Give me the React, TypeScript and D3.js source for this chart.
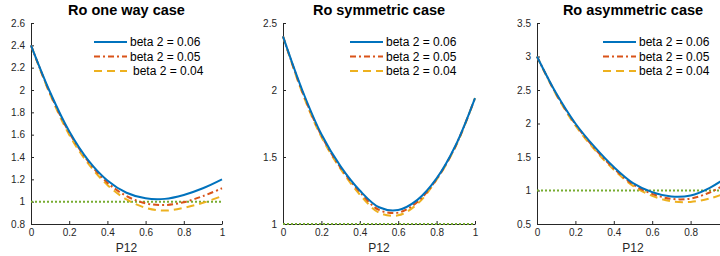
import React, { useEffect, useRef } from 'react';
import * as d3 from 'd3';

const P12 = [0, 0.1, 0.2, 0.3, 0.4, 0.5, 0.6, 0.7, 0.8, 0.9, 1];
const legendLabels = ['beta 2 = 0.06', 'beta 2 = 0.05', 'beta 2 = 0.04'];
const titles = ['Ro one way case', 'Ro symmetric case', 'Ro asymmetric case'];

// Ro one way case
const oneWay06 = [2.4, 1.98, 1.63, 1.37, 1.19, 1.08, 1.03, 1.025, 1.06, 1.12, 1.2];
const oneWay05 = [2.4, 1.97, 1.62, 1.36, 1.17, 1.05, 0.985, 0.97, 0.995, 1.05, 1.12];
const oneWay04 = [2.4, 1.96, 1.6, 1.34, 1.15, 1.02, 0.945, 0.92, 0.945, 0.99, 1.05];

// Ro symmetric case
const sym06 = [2.4, 2.0, 1.67, 1.43, 1.25, 1.125, 1.105, 1.18, 1.34, 1.59, 1.94];
const sym05 = [2.4, 1.99, 1.66, 1.42, 1.24, 1.105, 1.085, 1.165, 1.335, 1.585, 1.94];
const sym04 = [2.4, 1.98, 1.65, 1.41, 1.22, 1.085, 1.065, 1.15, 1.33, 1.58, 1.94];

// Ro asymmetric case
const asym06 = [3.0, 2.45, 2.0, 1.65, 1.35, 1.11, 0.975, 0.91, 0.925, 1.04, 1.22];
const asym05 = [3.0, 2.44, 1.99, 1.63, 1.33, 1.09, 0.95, 0.875, 0.88, 0.97, 1.12];
const asym04 = [3.0, 2.43, 1.97, 1.61, 1.31, 1.07, 0.92, 0.84, 0.83, 0.88, 0.98];

// reference line Ro = 1
const threshold = 1;

const yTicksOneWay = [0.8, 1, 1.2, 1.4, 1.6, 1.8, 2, 2.2, 2.4, 2.6];
const yTicksSym = [1, 1.5, 2, 2.5];
const yTicksAsym = [0.5, 1, 1.5, 2, 2.5, 3, 3.5];
const xTicks = [0, 0.2, 0.4, 0.6, 0.8, 1];

const colors = ['#0072BD', '#D95319', '#EDB120'];
const dashes = [null, '6,3,2,3', '8,5'];
const greenColor = '#77AC30';
const font = '"Liberation Sans", Arial, Helvetica, sans-serif';

const panels = [
  { title: titles[0], series: [oneWay06, oneWay05, oneWay04], yTicks: yTicksOneWay, left: 31, width: 191, legendX: 94, indent3: 3 },
  { title: titles[1], series: [sym06, sym05, sym04], yTicks: yTicksSym, left: 283, width: 192, legendX: 350, indent3: 0 },
  { title: titles[2], series: [asym06, asym05, asym04], yTicks: yTicksAsym, left: 537, width: 192, legendX: 603, indent3: 0 },
];

const App = () => {
  const svgRef = useRef(null);

  useEffect(() => {
    const svg = d3.select(svgRef.current);
    svg.selectAll('*').remove();

    const top = 23;
    const bottom = 224;
    const W = 720;

    panels.forEach((p) => {
      const yDomain = d3.extent(p.yTicks);
      const xScale = d3.scaleLinear().domain([0, 1]).range([p.left, p.left + p.width]);
      const yScale = d3.scaleLinear().domain(yDomain).range([bottom, top]);

      const g = svg.append('g');

      // y axis
      const yAxis = g.append('g')
        .attr('transform', `translate(${p.left},0)`)
        .call(d3.axisLeft(yScale).tickValues(p.yTicks).tickFormat(d3.format('~g')).tickSizeInner(-3).tickSizeOuter(0).tickPadding(6));

      // x axis (ticks past the window edge are not drawn)
      const visibleX = xTicks.filter((t) => xScale(t) < W);
      const xAxis = g.append('g')
        .attr('transform', `translate(0,${bottom})`)
        .call(d3.axisBottom(xScale).tickValues(visibleX).tickFormat(d3.format('~g')).tickSizeInner(-3).tickSizeOuter(0).tickPadding(5));

      [yAxis, xAxis].forEach((a) => {
        a.attr('font-family', font).attr('font-size', 10);
        a.selectAll('path, line').attr('stroke', '#262626').attr('stroke-width', 1);
        a.selectAll('text').attr('fill', '#262626');
      });

      // green dotted line at 1 (on top of the axes)
      g.append('line')
        .attr('x1', xScale(0))
        .attr('x2', xScale(1))
        .attr('y1', yScale(threshold))
        .attr('y2', yScale(threshold))
        .attr('stroke', greenColor)
        .attr('stroke-width', 2)
        .attr('stroke-dasharray', '2,2');

      const line = d3.line()
        .x((d, i) => xScale(P12[i]))
        .y((d) => yScale(d))
        .curve(d3.curveCatmullRom);

      // draw yellow first so blue sits on top
      [2, 1, 0].forEach((k) => {
        g.append('path')
          .datum(p.series[k])
          .attr('fill', 'none')
          .attr('stroke', colors[k])
          .attr('stroke-width', 2)
          .attr('stroke-dasharray', dashes[k])
          .attr('d', line);
      });

      // x label
      g.append('text')
        .attr('x', p.left + p.width / 2)
        .attr('y', 252)
        .attr('text-anchor', 'middle')
        .attr('font-family', font)
        .attr('font-size', 12)
        .attr('fill', '#262626')
        .text('P12');

      // title
      g.append('text')
        .attr('x', p.left + p.width / 2)
        .attr('y', 15)
        .attr('text-anchor', 'middle')
        .attr('font-family', font)
        .attr('font-size', 14.5)
        .attr('font-weight', 'bold')
        .attr('fill', '#000')
        .text(p.title);

      // legend
      legendLabels.forEach((label, k) => {
        const ly = 42 + k * 14.5;
        g.append('line')
          .attr('x1', p.legendX)
          .attr('x2', p.legendX + 33)
          .attr('y1', ly)
          .attr('y2', ly)
          .attr('stroke', colors[k])
          .attr('stroke-width', 2)
          .attr('stroke-dasharray', dashes[k]);
        g.append('text')
          .attr('x', p.legendX + 36 + (k === 2 ? p.indent3 : 0))
          .attr('y', ly + 4)
          .attr('font-family', font)
          .attr('font-size', 12)
          .attr('fill', '#000')
          .text(label);
      });
    });
  }, []);

  return (
    <div style={{ position: 'absolute', left: 0, top: 0, width: 720, height: 256, background: '#fff', overflow: 'hidden' }}>
      <svg ref={svgRef} width={720} height={256} style={{ display: 'block' }}></svg>
    </div>
  );
};

export default App;
